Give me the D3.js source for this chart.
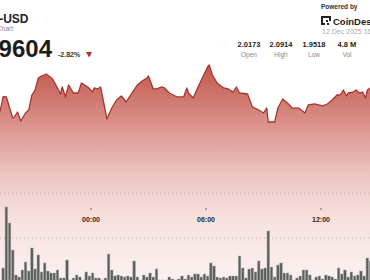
<!DOCTYPE html>
<html>
<head>
<meta charset="utf-8">
<title>XRP-USD Chart</title>
<script src="https://cdnjs.cloudflare.com/ajax/libs/d3/7.8.5/d3.min.js"></script>
<style>
    body { margin:0; background:#fff; }
    svg { display:block; font-family:"Liberation Sans", Arial, sans-serif; }
</style>
</head>
<body>
<div id="chart"></div>
<script>
// price line (time of day, USD)
var priceTimes = ['19:15','19:25','19:35','19:55','20:00','20:10','20:20','20:35','20:45','20:55',
    '21:05','21:15','21:25','21:40','22:00','22:15','22:25','22:30','22:40','22:50',
    '23:05','23:20','23:30','23:50','00:05','00:10','00:20','00:30','00:40','00:50',
    '01:05','01:20','01:35','01:50','02:10','02:25','02:40','02:55','03:00','03:15',
    '03:25','03:40','03:50','04:05','04:30','04:50','05:00','05:05','05:20','05:35',
    '05:50','06:05','06:10','06:20','06:35','06:55','07:10','07:25','07:35','07:45',
    '08:10','08:25','08:45','09:00','09:10','09:15','09:35','09:45','10:00','10:15',
    '10:30','10:50','11:10','11:20','11:40','12:05','12:20','12:35','12:50','13:00',
    '13:10','13:20','13:25','13:40','13:50','14:00','14:10','14:20','14:25','14:35'];
var prices = [1.9903,2.0070,2.0067,1.9833,1.9844,1.9900,1.9800,1.9889,1.9922,2.0089,
    2.0144,2.0278,2.0300,2.0322,2.0267,2.0167,2.0100,2.0178,2.0067,2.0200,
    2.0111,2.0111,2.0222,2.0178,2.0122,2.0167,2.0156,2.0178,2.0000,1.9822,
    1.9944,2.0033,2.0078,2.0011,2.0122,2.0200,2.0244,2.0278,2.0300,2.0156,
    2.0156,2.0178,2.0167,2.0111,2.0067,2.0067,2.0167,2.0111,2.0056,2.0178,
    2.0289,2.0400,2.0422,2.0311,2.0222,2.0167,2.0156,2.0122,2.0178,2.0111,
    2.0100,1.9956,1.9922,1.9889,1.9944,1.9789,1.9789,1.9944,2.0044,2.0000,
    1.9944,1.9944,1.9889,1.9978,1.9989,1.9967,1.9989,2.0033,2.0089,2.0089,
    2.0144,2.0078,2.0111,2.0122,2.0144,2.0111,2.0122,2.0056,2.0144,2.0167];

// 10 minute volume bars starting 19:20 (thousands)
var volStart = '19:20';
var volumes = [15,76,60,33,8,6,13,21,12,35,14,28,11,20,12,10,10,13,5,5,
    23,3,5,8,6,3,11,7,10,5,5,3,5,29,13,7,8,7,6,
    7,6,22,6,3,8,6,10,6,14,3,3,3,6,4,3,4,7,4,8,
    6,9,9,6,9,7,20,17,6,5,6,5,7,7,7,27,15,5,
    14,15,11,22,14,15,52,16,6,18,20,10,10,8,3,5,7,13,13,8,
    3,6,7,4,8,7,6,4,15,9,13,6,11,7,8,12,7,25,22];

var tickLabels = ['00:00','06:00','12:00'];
var gridPrices = [1.85, 1.90, 1.95];

var stats = [
    {value:'2.0173', label:'Open'},
    {value:'2.0914', label:'High'},
    {value:'1.9518', label:'Low'},
    {value:'4.8 M', label:'Vol'}
];

var width = 370, height = 280;

function toDate(s) {
    var p = s.split(':').map(Number);
    return new Date(2025, 11, p[0] >= 18 ? 11 : 12, p[0], p[1]);
}

var svg = d3.select('#chart').append('svg')
    .attr('width', width)
    .attr('height', height);

var x = d3.scaleTime()
    .domain([toDate('00:00'), toDate('12:00')])
    .range([91, 321]);

var y = d3.scaleLinear()
    .domain([1.85, 1.95])
    .range([238, 148]);

var yVol = d3.scaleLinear()
    .domain([0, 80])
    .range([283, 203]);

// gradient under the line
var grad = svg.append('defs').append('linearGradient')
    .attr('id', 'fillGrad')
    .attr('gradientUnits', 'userSpaceOnUse')
    .attr('x1', 0).attr('x2', 0)
    .attr('y1', 65).attr('y2', 280);
[[0,'#c2564c'],[0.3,'#dc9791'],[0.5,'#ecc3bf'],[0.7,'#f6dfdd'],[1,'#fbf1f0']].forEach(function(s) {
    grad.append('stop').attr('offset', s[0]).attr('stop-color', s[1]);
});

var pts = priceTimes.map(function(t, i) { return {t:toDate(t), p:prices[i]}; });

svg.append('path')
    .datum(pts)
    .attr('fill', 'url(#fillGrad)')
    .attr('d', d3.area()
        .x(function(d) { return x(d.t); })
        .y0(height)
        .y1(function(d) { return y(d.p); }));

// dotted grid
svg.selectAll('.grid')
    .data(gridPrices)
    .enter().append('line')
    .attr('x1', 0).attr('x2', width)
    .attr('y1', function(d) { return y(d); })
    .attr('y2', function(d) { return y(d); })
    .attr('stroke', '#b9b0b0')
    .attr('stroke-width', 1)
    .attr('stroke-dasharray', '1,3');

svg.append('path')
    .datum(pts)
    .attr('fill', 'none')
    .attr('stroke', '#a8352d')
    .attr('stroke-width', 1.3)
    .attr('stroke-linejoin', 'round')
    .attr('d', d3.line()
        .x(function(d) { return x(d.t); })
        .y(function(d) { return y(d.p); }));

// volume bars
var t0 = toDate(volStart);
var barW = x(new Date(t0.getTime() + 10 * 60000)) - x(t0);
svg.selectAll('.bar')
    .data(volumes)
    .enter().append('rect')
    .attr('x', function(d, i) { return x(new Date(t0.getTime() + i * 600000)) + 0.3; })
    .attr('y', function(d) { return yVol(d); })
    .attr('width', barW - 0.6)
    .attr('height', function(d) { return yVol(0) - yVol(d); })
    .attr('fill', '#5b605c')
    .attr('stroke', '#a7aaa7')
    .attr('stroke-width', 0.5);

// time axis
var xAxis = svg.append('g').attr('transform', 'translate(0,208)');
xAxis.selectAll('line')
    .data(tickLabels)
    .enter().append('line')
    .attr('x1', function(d) { return x(toDate(d)); })
    .attr('x2', function(d) { return x(toDate(d)); })
    .attr('y1', 0).attr('y2', 2)
    .attr('stroke', '#666');
xAxis.selectAll('text')
    .data(tickLabels)
    .enter().append('text')
    .attr('x', function(d) { return x(toDate(d)); })
    .attr('y', 13.5)
    .attr('text-anchor', 'middle')
    .attr('font-size', 7)
    .attr('font-weight', 'bold')
    .attr('fill', '#2a2a2a')
    .text(function(d) { return d; });

// header left (cut at the left edge as in the source)
svg.append('text').attr('x', 28.5).attr('y', 22.5).attr('text-anchor', 'end')
    .attr('font-size', 12).attr('font-weight', 'bold').attr('fill', '#222').text('XRP-USD');
svg.append('text').attr('x', 13).attr('y', 31).attr('text-anchor', 'end')
    .attr('font-size', 6.5).attr('fill', '#888').text('Price Chart');
svg.append('text').attr('x', 52).attr('y', 57).attr('text-anchor', 'end')
    .attr('font-size', 24).attr('font-weight', 'bold').attr('fill', '#1c1c1c').text('1.9604');
svg.append('text').attr('x', 58).attr('y', 57)
    .attr('font-size', 7).attr('font-weight', 600).attr('fill', '#333').text('-2.82%');
svg.append('path').attr('d', 'M86,52L92,52L89,57.5Z').attr('fill', '#c62a22');

// header right
svg.append('text').attr('x', 321).attr('y', 9)
    .attr('font-size', 6.5).attr('font-weight', 'bold').attr('fill', '#333').text('Powered by');
var logo = svg.append('g').attr('fill', '#222');
logo.append('rect').attr('x', 321).attr('y', 16).attr('width', 10).attr('height', 2);
logo.append('rect').attr('x', 321).attr('y', 16).attr('width', 2).attr('height', 9);
logo.append('rect').attr('x', 321).attr('y', 23).attr('width', 4).attr('height', 2);
logo.append('rect').attr('x', 329).attr('y', 18).attr('width', 2).attr('height', 3);
logo.append('rect').attr('x', 326).attr('y', 20).attr('width', 2).attr('height', 2);
logo.append('rect').attr('x', 327).attr('y', 23).attr('width', 2).attr('height', 2);
svg.append('text').attr('x', 333).attr('y', 25)
    .attr('font-size', 9.5).attr('font-weight', 'bold').attr('fill', '#1c1c1c').text('CoinDesk');
svg.append('text').attr('x', 322).attr('y', 34)
    .attr('font-size', 7).attr('fill', '#aaa').text('12 Dec 2025 16:00 UTC');

var statCx = [249, 281, 314, 347];
var st = svg.selectAll('.stat').data(stats).enter().append('g');
st.append('text')
    .attr('x', function(d, i) { return statCx[i]; })
    .attr('y', 47)
    .attr('text-anchor', 'middle')
    .attr('font-size', 7.5).attr('font-weight', 'bold').attr('fill', '#222')
    .text(function(d) { return d.value; });
st.append('text')
    .attr('x', function(d, i) { return statCx[i]; })
    .attr('y', 56.5)
    .attr('text-anchor', 'middle')
    .attr('font-size', 6.5).attr('fill', '#888')
    .text(function(d) { return d.label; });
</script>
</body>
</html>
